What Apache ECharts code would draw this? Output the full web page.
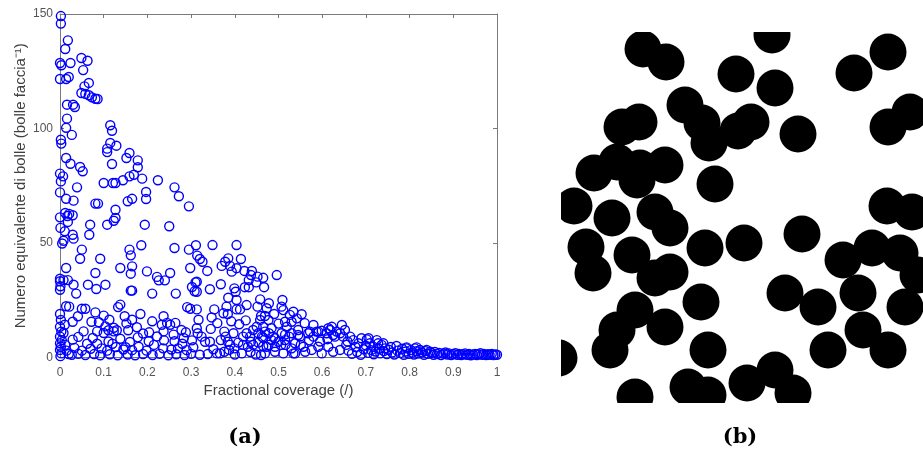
<!DOCTYPE html>
<html>
<head>
<meta charset="utf-8">
<script src="https://cdn.jsdelivr.net/npm/echarts@6/dist/echarts.min.js"></script>
<style>
  html, body { margin: 0; padding: 0; background: #fff; }
  #chart { width: 923px; height: 452px; }
</style>
</head>
<body>
<div id="chart"></div>
<script>
// (a) numero di bolle vs fractional coverage, [coverage, bolle]
var highPoints = [
    [0.002,149.1],[0.002,145.8],[0.018,138.5],[0.012,134.7],[0.0,128.6],[0.003,127.6],[0.024,128.6],[0.049,130.8],
    [0.063,129.6],[0.053,125.5],[0.0,121.6],[0.014,121.6],[0.02,122.5],[0.066,119.9],[0.056,118.4],[0.049,115.5],
    [0.058,115.1],[0.066,114.5],[0.073,113.6],[0.081,113.0],[0.086,112.9],[0.016,110.4],[0.03,110.4],[0.034,109.4],
    [0.016,104.3],[0.014,100.3],[0.027,97.2],[0.115,101.4],[0.119,99.0],[0.002,95.1],[0.003,93.4],[0.115,93.7],
    [0.108,91.2],[0.108,89.7],[0.129,92.5],[0.159,89.3],[0.152,87.1],[0.178,86.1],[0.178,83.1],[0.014,87.1],
    [0.024,84.6],[0.046,83.2],[0.052,81.3],[0.119,84.5],[0.0,80.3],[0.007,79.1],[0.002,76.9],[0.169,79.8],
    [0.159,79.1],[0.188,78.1],[0.144,77.4],[0.127,76.2],[0.121,76.2],[0.1,76.2],[0.224,77.4],[0.039,74.3],
    [0.0,72.1],[0.262,74.3],[0.197,72.3],[0.197,69.2],[0.272,70.4],[0.014,69.3],[0.031,68.5],[0.165,69.3],
    [0.155,68.2],[0.081,67.2],[0.087,67.2],[0.295,66.0]
];
var midPoints = [
    [0.127,64.5],[0.012,63.1],[0.021,62.7],[0.029,62.1],[0.0,61.2],[0.017,61.8],[0.127,60.9],[0.123,59.7],
    [0.108,58.0],[0.018,59.2],[0.069,58.0],[0.194,58.0],[0.25,57.3],[0.001,56.6],[0.011,55.1],[0.067,53.6],
    [0.029,53.6],[0.031,51.9],[0.008,51.0],[0.005,49.8],[0.05,47.1],[0.046,43.1],[0.092,43.1],[0.159,47.1],
    [0.162,44.6],[0.186,49.0],[0.262,47.8],[0.295,47.1],[0.311,49.0],[0.32,43.0],[0.326,41.8],[0.349,49.1],
    [0.404,49.1],[0.314,44.5],[0.014,39.1],[0.081,36.9],[0.138,39.1],[0.165,39.8],[0.162,36.6],[0.199,37.6],
    [0.252,36.9],[0.298,39.1],[0.222,35.2],[0.226,33.7],[0.24,33.7],[0.0,34.4],[0.0,33.3],[0.008,33.8],
    [0.018,33.8],[0.001,31.1],[0.0,29.6],[0.031,31.8],[0.037,27.9],[0.064,31.8],[0.083,29.9],[0.104,31.8],
    [0.162,29.2],[0.165,29.2],[0.211,27.9],[0.265,27.9],[0.302,30.8],[0.31,32.8],[0.308,28.9],[0.37,40.0],
    [0.378,41.8],[0.385,43.3],[0.389,40.0],[0.393,37.5],[0.414,43.0],[0.404,39.0],[0.422,37.8],[0.439,37.8],
    [0.437,36.0],[0.452,35.3],[0.496,36.0],[0.337,37.8],[0.465,34.8],[0.313,33.1],[0.313,28.7],[0.343,29.8],
    [0.368,32.0],[0.399,30.2],[0.402,28.7],[0.432,33.8],[0.423,30.7],[0.432,30.7],[0.449,32.8],[0.467,30.7],
    [0.385,26.1],[0.404,25.1],[0.427,22.9],[0.458,25.4],[0.452,22.2],[0.478,23.7],[0.473,21.5],[0.509,25.1],
    [0.507,22.2],[0.511,20.7],[0.534,20.0],[0.313,21.0],[0.353,21.0],[0.381,22.2],[0.021,22.2],[0.014,22.4],
    [0.05,21.3],[0.058,21.3],[0.133,22.0],[0.138,23.1],[0.291,22.0],[0.298,21.3]
];
var lowPoints = [
    [0.0,19.0],[0.002,16.4],[0.0,13.4],[0.003,11.3],[0.0,9.1],[0.004,7.6],[0.0,6.2],[0.002,4.7],
    [0.0,3.3],[0.003,1.8],[0.001,0.6],[0.011,14.3],[0.008,10.7],[0.012,5.5],[0.015,3.0],[0.02,1.5],
    [0.041,18.0],[0.081,19.7],[0.1,18.3],[0.148,18.0],[0.165,16.5],[0.184,19.0],[0.317,16.5],[0.029,15.6],
    [0.072,15.6],[0.089,15.4],[0.113,16.5],[0.104,13.6],[0.211,15.8],[0.237,18.0],[0.233,14.3],[0.245,15.1],
    [0.252,14.3],[0.264,15.1],[0.152,14.9],[0.123,13.0],[0.054,11.4],[0.085,11.4],[0.1,10.7],[0.111,11.9],
    [0.123,11.4],[0.13,11.9],[0.156,11.9],[0.204,11.0],[0.237,11.4],[0.26,10.0],[0.278,12.0],[0.288,11.0],
    [0.283,8.5],[0.302,7.5],[0.176,13.2],[0.19,10.5],[0.029,7.8],[0.042,9.0],[0.075,8.5],[0.062,6.0],
    [0.085,6.0],[0.12,6.0],[0.111,7.0],[0.178,8.8],[0.203,7.1],[0.238,7.5],[0.262,7.1],[0.28,6.0],
    [0.138,8.2],[0.16,6.8],[0.222,9.2],[0.15,4.5],[0.145,3.5],[0.18,4.7],[0.215,5.5],[0.236,4.0],
    [0.255,3.5],[0.27,4.0],[0.033,4.2],[0.05,3.0],[0.07,3.8],[0.095,4.0],[0.108,3.0],[0.128,4.6],
    [0.165,3.2],[0.198,3.0],[0.29,3.2],[0.305,4.5],[0.027,1.2],[0.042,1.6],[0.058,1.1],[0.078,1.5],
    [0.092,1.0],[0.114,1.4],[0.132,1.0],[0.155,1.3],[0.172,1.0],[0.19,1.5],[0.212,1.1],[0.228,1.6],
    [0.248,1.0],[0.266,1.4],[0.285,1.1],[0.3,1.6],[0.32,1.2],[0.338,1.5],[0.313,12.8],[0.315,10.6],
    [0.324,9.1],[0.332,6.9],[0.343,6.9],[0.351,3.6],[0.376,11.3],[0.379,9.1],[0.368,7.6],[0.384,6.9],
    [0.397,10.6],[0.419,9.1],[0.427,10.6],[0.435,9.1],[0.442,12.0],[0.45,13.4],[0.437,6.9],[0.454,10.6],
    [0.462,9.1],[0.469,11.3],[0.478,10.6],[0.484,7.6],[0.492,8.4],[0.5,6.9],[0.515,10.0],[0.516,5.5],
    [0.524,9.1],[0.545,9.8],[0.568,10.6],[0.58,9.1],[0.591,11.3],[0.61,10.6],[0.618,12.0],[0.629,9.1],
    [0.641,10.6],[0.389,5.5],[0.399,4.0],[0.408,6.5],[0.387,3.3],[0.419,5.5],[0.43,4.7],[0.442,5.5],
    [0.454,6.5],[0.465,4.9],[0.477,5.5],[0.359,1.8],[0.366,1.8],[0.416,1.8],[0.46,1.1],[0.376,2.5],
    [0.4,1.3],[0.436,2.4],[0.448,1.3],[0.492,2.5],[0.506,5.5],[0.511,1.8],[0.53,4.0],[0.538,1.8],
    [0.551,5.5],[0.561,2.5],[0.576,3.3],[0.591,4.7],[0.599,1.8],[0.614,4.7],[0.625,2.5],[0.641,3.3],
    [0.58,14.2],[0.587,11.3],[0.572,11.3],[0.599,11.7],[0.614,12.8],[0.622,13.4],[0.645,14.2],[0.633,11.3],
    [0.625,9.8],[0.465,13.4],[0.484,12.8],[0.488,9.1],[0.465,8.7],[0.473,4.7],[0.492,4.7],[0.458,16.4],
    [0.477,16.4],[0.507,10.6],[0.515,7.6],[0.519,13.4],[0.53,10.6],[0.538,6.2],[0.549,9.1],[0.545,12.0],
    [0.557,4.7],[0.534,1.8],[0.469,1.8],[0.526,18.6],[0.553,18.9],[0.542,17.1],[0.53,15.6],[0.515,15.6],
    [0.46,18.1],[0.469,18.1],[0.49,19.0],[0.374,19.3],[0.384,19.0],[0.404,21.0],[0.412,21.0],[0.392,15.8],
    [0.41,14.5],[0.36,15.0],[0.345,12.5],[0.425,16.2],[0.5,14.8],[0.56,15.0],[0.612,8.0],[0.595,7.0],
    [0.57,7.5],[0.347,17.5]
];
var tailPoints = [
    [0.648,9.1],[0.652,12.0],[0.658,7.0],[0.664,9.1],[0.671,7.6],[0.683,6.2],[0.69,8.4],[0.702,7.9],
    [0.709,6.2],[0.717,4.7],[0.728,6.2],[0.736,5.5],[0.744,4.0],[0.77,5.0],[0.793,4.0],[0.812,4.0],
    [0.824,3.3],[0.839,3.3],[0.847,2.5],[0.706,8.4],[0.725,7.6],[0.74,6.2],[0.793,4.4],[0.816,4.4],
    [0.655,5.5],[0.66,3.0],[0.668,1.6],[0.676,4.6],[0.68,2.4],[0.688,1.2],[0.695,3.6],[0.7,5.2],
    [0.705,2.0],[0.712,3.2],[0.718,1.4],[0.722,2.6],[0.73,3.8],[0.733,1.8],[0.741,2.8],[0.748,1.5],
    [0.752,3.4],[0.757,4.6],[0.76,2.2],[0.765,1.3],[0.772,3.0],[0.778,1.9],[0.783,3.8],[0.787,1.2],
    [0.791,2.6],[0.798,1.6],[0.803,3.2],[0.806,2.1],[0.81,1.3],[0.816,2.7],[0.82,1.7],[0.828,2.2],
    [0.833,1.2],[0.836,2.8],[0.842,1.6],[0.85,1.9],[0.855,1.2],[0.858,2.4],[0.863,1.5],[0.868,2.0],
    [0.872,1.1],[0.877,1.7],[0.882,2.2],[0.886,1.3],[0.89,1.8],[0.895,1.1],[0.9,1.5],[0.905,1.9],
    [0.909,1.2],[0.913,1.6],[0.918,1.1],[0.922,1.4],[0.927,1.8],[0.931,1.2],[0.936,1.5],[0.94,1.0],
    [0.945,1.3],[0.95,1.6],[0.954,1.1],[0.958,1.4],[0.962,1.9],[0.966,1.2],[0.97,1.5],[0.975,1.1],
    [0.979,1.4],[0.983,1.2],[0.988,1.6],[0.992,1.1],[0.996,1.3],[1.0,1.2]
];

// (b) immagine binaria: centri delle bolle in pixel dell'immagine
var bubbleX = [82,105,211,175,214,293,327,124,141,148,177,190,237,61,78,33,56,79,104,76,154,327,349,13,51,94,109,326,351,
    25,32,71,94,109,144,183,241,282,311,339,357,297,344,302,327,224,257,140,74,56,49,104,-2,147,267,74,127,147,186,214,232];
var bubbleY = [17,30,3,42,56,41,20,73,91,111,99,90,102,95,90,141,130,136,133,148,152,95,80,174,186,180,196,174,180,
    215,241,223,246,240,216,211,202,228,216,221,243,261,275,298,318,261,275,270,278,298,318,295,326,318,318,365,355,363,351,338,361];
var bubbleRadius = 18.5;
var imageWidth = 362;
var imageHeight = 371;

var axisGray = '#7a7a7a';
var labelGray = '#555555';
var font = '"Liberation Sans", Arial, sans-serif';

var scatterData = highPoints.concat(midPoints, lowPoints, tailPoints);
var bubbles = bubbleX.map(function (x, i) { return [x, bubbleY[i]]; });

function boxAxis(grid, pos, min, max, interval, showLabel) {
    return {
        gridIndex: grid, type: 'value', position: pos, min: min, max: max, interval: interval,
        axisLine: {onZero: false, lineStyle: {color: axisGray, width: 1}},
        axisTick: {inside: true, length: 4, lineStyle: {color: axisGray}},
        axisLabel: {show: showLabel, color: labelGray, fontSize: 12, fontFamily: font, margin: pos == 'bottom' ? 9 : 7},
        splitLine: {show: false}
    };
}

var xBottom = boxAxis(0, 'bottom', 0, 1, 0.1, true);
xBottom.name = 'Fractional coverage (/)';
xBottom.nameLocation = 'middle';
xBottom.nameGap = 26;
xBottom.nameTextStyle = {color: '#404040', fontSize: 15, fontFamily: font};

var yLeft = boxAxis(0, 'left', 0, 150, 50, true);
yLeft.name = 'Numero equivalente di bolle (bolle faccia\u207B\u00B9)';
yLeft.nameLocation = 'middle';
yLeft.nameGap = 32;
yLeft.nameTextStyle = {color: '#404040', fontSize: 15, fontFamily: font};

var myChart = echarts.init(document.getElementById('chart'), null, {renderer: 'canvas'});
var option = {
    animation: false,
    backgroundColor: '#ffffff',
    grid: [
        {left: 60, top: 14, width: 437, height: 343.5},
        {left: 561, top: 32, width: imageWidth, height: imageHeight}
    ],
    xAxis: [
        xBottom,
        boxAxis(0, 'top', 0, 1, 0.1, false),
        {gridIndex: 1, type: 'value', min: 0, max: imageWidth, show: false}
    ],
    yAxis: [
        yLeft,
        boxAxis(0, 'right', 0, 150, 50, false),
        {gridIndex: 1, type: 'value', min: 0, max: imageHeight, inverse: true, show: false}
    ],
    series: [
        {
            type: 'scatter',
            xAxisIndex: 0,
            yAxisIndex: 0,
            symbol: 'circle',
            symbolSize: 9,
            itemStyle: {color: 'rgba(0,0,0,0)', borderColor: '#0000ff', borderWidth: 1.4, opacity: 1},
            emphasis: {disabled: true},
            data: scatterData
        },
        {
            type: 'custom',
            xAxisIndex: 2,
            yAxisIndex: 2,
            clip: true,
            renderItem: function (params, api) {
                var c = api.coord([api.value(0), api.value(1)]);
                var r = api.size([bubbleRadius, 0])[0];
                return {type: 'circle', shape: {cx: c[0], cy: c[1], r: r}, style: {fill: '#000000'}};
            },
            data: bubbles
        }
    ],
    graphic: [
        {type: 'text', x: 245, y: 427, style: {text: '(a)', font: 'bold 21px "DejaVu Serif", serif', fill: '#000', textAlign: 'center'}},
        {type: 'text', x: 740, y: 427, style: {text: '(b)', font: 'bold 21px "DejaVu Serif", serif', fill: '#000', textAlign: 'center'}}
    ]
};
myChart.setOption(option);
</script>
</body>
</html>
